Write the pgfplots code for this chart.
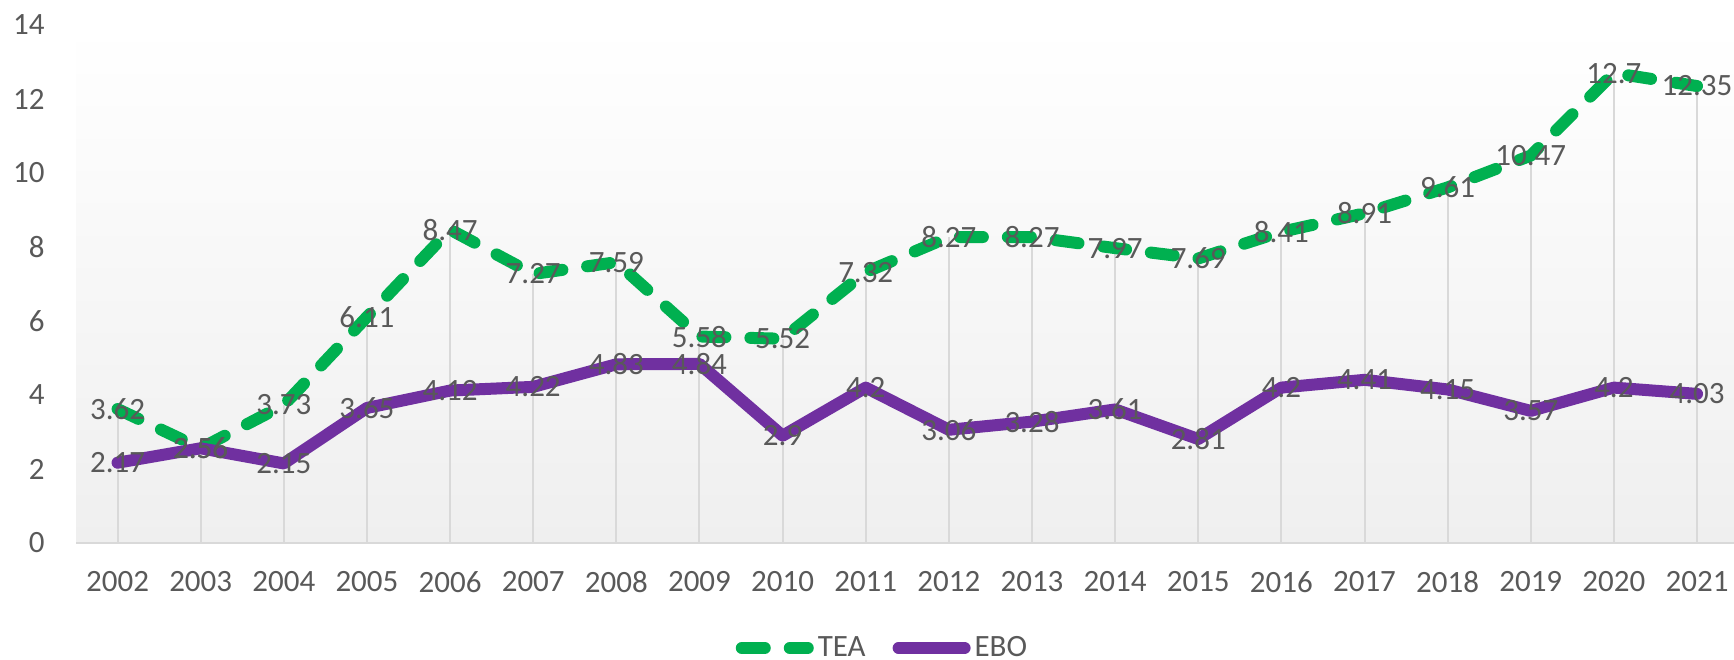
\documentclass[border=0pt]{standalone}
\usepackage{pgfplots}
\pgfplotsset{compat=1.18}
\usepackage{pgfplotstable}
\usepackage{fontspec}
\setmainfont{Carlito}
\definecolor{teagreen}{HTML}{00B050}
\definecolor{ebopurple}{HTML}{7030A0}
\definecolor{txt}{HTML}{595959}
\definecolor{gridc}{HTML}{D9D9D9}
\definecolor{bgb}{HTML}{EFEFEF}

\pgfplotstableread{
x y lab
0 3.62 3.62
1 2.56 2.56
2 3.73 3.73
3 6.11 6.11
4 8.47 8.47
5 7.27 7.27
6 7.59 7.59
7 5.58 5.58
8 5.52 5.52
9 7.32 7.32
10 8.27 8.27
11 8.27 8.27
12 7.97 7.97
13 7.69 7.69
14 8.41 8.41
15 8.91 8.91
16 9.61 9.61
17 10.47 10.47
18 12.7 12.7
19 12.35 12.35
}\teatable

\pgfplotstableread{
x y lab
0 2.17 2.17
1 2.56 2.56
2 2.15 2.15
3 3.65 3.65
4 4.12 4.12
5 4.22 4.22
6 4.83 4.83
7 4.84 4.84
8 2.9 2.9
9 4.2 4.2
10 3.06 3.06
11 3.28 3.28
12 3.61 3.61
13 2.81 2.81
14 4.2 4.2
15 4.41 4.41
16 4.15 4.15
17 3.57 3.57
18 4.2 4.2
19 4.03 4.03
}\ebotable

\begin{document}
\begin{tikzpicture}
\useasboundingbox (0,0) rectangle (867pt,329.5pt);
\begin{axis}[
  at={(38pt,58pt)}, anchor=south west,
  width=829pt, height=259pt, scale only axis,
  xmin=-0.5, xmax=19.445, ymin=0, ymax=14,
  xtick={0,...,19},
  xticklabels={2002,2003,2004,2005,2006,2007,2008,2009,2010,2011,2012,2013,2014,2015,2016,2017,2018,2019,2020,2021},
  ytick={0,2,4,6,8,10,12,14},
  major tick length=0pt,
  axis x line*=bottom, axis y line*=left,
  x axis line style={draw=gridc, line width=1pt, -},
  y axis line style={draw=none, -},
  tick label style={font=\fontsize{15.5}{18}\selectfont, text=txt},
  yticklabel style={anchor=east, inner sep=0pt, xshift=-15.5pt},
  xticklabel style={anchor=center, inner sep=0pt, yshift=-19.5pt},
  /pgf/number format/assume math mode=true,
  axis background/.style={top color=white, bottom color=bgb, draw=none},
  clip=false,
  legend columns=2,
  legend style={draw=none, fill=none, at={(0.487,-0.2027)}, anchor=center,
    font=\fontsize{15.5}{18}\selectfont, text=txt,
    /tikz/every even column/.append style={column sep=11.5pt}},
  legend image code/.code={\draw[#1] (3pt,0pt) -- (36pt,0pt);},
]
\addplot[ycomb, draw=gridc, line width=1pt, no marks, forget plot] table[x=x,y=y]{\teatable};
\addplot[teagreen, line width=6pt, line cap=round, line join=round, dash pattern=on 11.5pt off 12.5pt, no marks] table[x=x,y=y]{\teatable};
\addlegendentry{TEA}
\addplot[ebopurple, line width=6pt, line cap=round, line join=round, no marks] table[x=x,y=y]{\ebotable};
\addlegendentry{EBO}
\addplot[draw=none, no marks, forget plot, nodes near coords, point meta=explicit symbolic,
  every node near coord/.append style={anchor=center, inner sep=0pt, font=\fontsize{15.5}{18}\selectfont, text=txt}]
  table[x=x,y=y,meta=lab]{\teatable};
\addplot[draw=none, no marks, forget plot, nodes near coords, point meta=explicit symbolic,
  every node near coord/.append style={anchor=center, inner sep=0pt, font=\fontsize{15.5}{18}\selectfont, text=txt}]
  table[x=x,y=y,meta=lab]{\ebotable};
\end{axis}
\end{tikzpicture}
\end{document}
